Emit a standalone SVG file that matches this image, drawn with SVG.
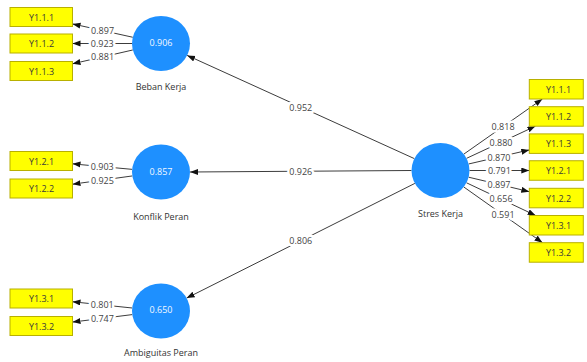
<svg xmlns="http://www.w3.org/2000/svg" width="587" height="362" viewBox="0 0 587 362">
  <style>
    text { font-family: "Open Sans", "Noto Sans", "DejaVu Sans", sans-serif; }
    .ind rect { fill: #ffff00; stroke: #b8b000; stroke-width: 1; }
    .ind text { font-size: 9px; fill: #3a3a3a; text-anchor: middle; dominant-baseline: central; }
    .lv ellipse { fill: #1e90ff; }
    .lv .val { font-size: 9px; fill: #f2f8ff; text-anchor: middle; dominant-baseline: central; }
    .lv .name { font-size: 9px; fill: #333333; text-anchor: middle; dominant-baseline: central; }
    .edge line { stroke: #3c3c3c; stroke-width: 1; marker-end: url(#head); }
    .edge text { font-size: 9px; fill: #444444; text-anchor: middle; dominant-baseline: central;
                 stroke: #ffffff; stroke-width: 5; paint-order: stroke; stroke-linejoin: round; }
  </style>
  <defs>
    <marker id="head" markerUnits="userSpaceOnUse" markerWidth="9" markerHeight="7" refX="8" refY="3" orient="auto">
      <path d="M0,0 L8,3 L0,6 z" fill="#111111"/>
    </marker>
  </defs>
  <rect width="587" height="362" fill="#ffffff"/>

  <!-- connectors: path coefficients and outer loadings -->
  <g id="connectors" class="edge">
    <line x1="414.35" y1="158.62" x2="187.15" y2="55.38"/>
    <line x1="411.5" y1="170.5" x2="190" y2="172"/>
    <line x1="414.88" y1="183.38" x2="186.62" y2="298.12"/>

    <line x1="132.76" y1="37.25" x2="72.5" y2="23.9"/>
    <line x1="132" y1="43.5" x2="72.5" y2="43.5"/>
    <line x1="132.8" y1="49.97" x2="72.5" y2="63.82"/>

    <line x1="132.13" y1="169.35" x2="72.5" y2="163.87"/>
    <line x1="132.3" y1="175.95" x2="72.5" y2="184.19"/>

    <line x1="132.17" y1="307.99" x2="72.5" y2="301.76"/>
    <line x1="132.25" y1="314.6" x2="72.5" y2="322.09"/>

    <line x1="463.81" y1="154.14" x2="542.4" y2="99"/>
    <line x1="466.52" y1="158.35" x2="535.4" y2="126.2"/>
    <line x1="468.67" y1="163.97" x2="529.3" y2="149.91"/>
    <line x1="469.5" y1="170.5" x2="529.3" y2="170.5"/>
    <line x1="468.64" y1="177.19" x2="529.3" y2="191.63"/>
    <line x1="466.46" y1="182.77" x2="535.68" y2="215.5"/>
    <line x1="463.74" y1="186.95" x2="542.5" y2="242.7"/>

    <text x="300.75" y="107">0.952</text>
    <text x="300.75" y="171.25">0.926</text>
    <text x="300.75" y="240.75">0.806</text>

    <text x="102.6" y="30.6">0.897</text>
    <text x="102.3" y="43.5">0.923</text>
    <text x="102.6" y="56.9">0.881</text>
    <text x="102.3" y="166.6">0.903</text>
    <text x="102.4" y="180.1">0.925</text>
    <text x="102.3" y="304.9">0.801</text>
    <text x="102.4" y="318.35">0.747</text>

    <text x="503.1" y="126.6">0.818</text>
    <text x="501" y="142.3">0.880</text>
    <text x="499" y="157">0.870</text>
    <text x="499.4" y="170.5">0.791</text>
    <text x="499" y="184.4">0.897</text>
    <text x="501.1" y="198.6">0.656</text>
    <text x="503.1" y="214.6">0.591</text>
  </g>

  <!-- latent variables -->
  <g id="beban-kerja" class="lv">
    <ellipse cx="161" cy="43.5" rx="29" ry="27.5"/>
    <text class="val" x="161" y="42">0.906</text>
    <text class="name" x="161" y="86">Beban Kerja</text>
  </g>
  <g id="konflik-peran" class="lv">
    <ellipse cx="161" cy="172" rx="29" ry="27.5"/>
    <text class="val" x="161" y="171">0.857</text>
    <text class="name" x="161" y="216">Konflik Peran</text>
  </g>
  <g id="ambiguitas-peran" class="lv">
    <ellipse cx="161" cy="311" rx="29" ry="27.5"/>
    <text class="val" x="161" y="309">0.650</text>
    <text class="name" x="161" y="352">Ambiguitas Peran</text>
  </g>
  <g id="stres-kerja" class="lv">
    <ellipse cx="440.5" cy="170.5" rx="29" ry="27.5"/>
    <text class="name" x="440.5" y="213">Stres Kerja</text>
  </g>

  <!-- indicators, left -->
  <g id="ind-b-111" class="ind"><rect x="10" y="7.5" width="62.5" height="19"/><text x="41.5" y="17">Y1.1.1</text></g>
  <g id="ind-b-112" class="ind"><rect x="10" y="34" width="62.5" height="19"/><text x="41.5" y="43.5">Y1.1.2</text></g>
  <g id="ind-b-113" class="ind"><rect x="10" y="61.5" width="62.5" height="19"/><text x="41.5" y="71">Y1.1.3</text></g>
  <g id="ind-k-121" class="ind"><rect x="10" y="151.5" width="62.5" height="19"/><text x="41.5" y="161">Y1.2.1</text></g>
  <g id="ind-k-122" class="ind"><rect x="10" y="179" width="62.5" height="19"/><text x="41.5" y="188.5">Y1.2.2</text></g>
  <g id="ind-a-131" class="ind"><rect x="10" y="289" width="62.5" height="19"/><text x="41.5" y="298.5">Y1.3.1</text></g>
  <g id="ind-a-132" class="ind"><rect x="10" y="316.5" width="62.5" height="19"/><text x="41.5" y="326">Y1.3.2</text></g>

  <!-- indicators, right -->
  <g id="ind-s-111" class="ind"><rect x="529.3" y="79.5" width="54" height="19.5"/><text x="558.5" y="89.25">Y1.1.1</text></g>
  <g id="ind-s-112" class="ind"><rect x="529.3" y="106.7" width="54" height="19.5"/><text x="558.5" y="116.45">Y1.1.2</text></g>
  <g id="ind-s-113" class="ind"><rect x="529.3" y="133.9" width="54" height="19.5"/><text x="558.5" y="143.65">Y1.1.3</text></g>
  <g id="ind-s-121" class="ind"><rect x="529.3" y="160.75" width="54" height="19.5"/><text x="558.5" y="170.5">Y1.2.1</text></g>
  <g id="ind-s-122" class="ind"><rect x="529.3" y="188.3" width="54" height="19.5"/><text x="558.5" y="198.05">Y1.2.2</text></g>
  <g id="ind-s-131" class="ind"><rect x="529.3" y="215.5" width="54" height="19.5"/><text x="558.5" y="225.25">Y1.3.1</text></g>
  <g id="ind-s-132" class="ind"><rect x="529.3" y="242.7" width="54" height="19.5"/><text x="558.5" y="252.45">Y1.3.2</text></g>
</svg>
